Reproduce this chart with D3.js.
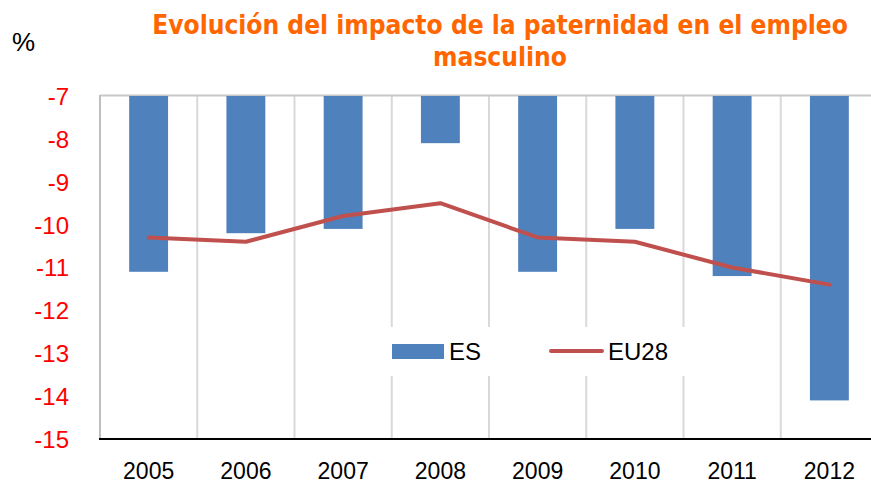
<!DOCTYPE html>
<html><head><meta charset="utf-8">
<script src="https://cdn.jsdelivr.net/npm/d3@7/dist/d3.min.js"></script>
<style>body{margin:0;background:#fff}svg{display:block}</style>
</head><body>
<script>
const years = ["2005","2006","2007","2008","2009","2010","2011","2012"];
const esValues = [-11.1,-10.2,-10.1,-8.1,-11.1,-10.1,-11.2,-14.1];
const eu28Values = [-10.3,-10.4,-9.8,-9.5,-10.3,-10.4,-11.0,-11.4];
const yTicks = [-7,-8,-9,-10,-11,-12,-13,-14,-15];
const titleLines = ["Evolución del impacto de la paternidad en el empleo","masculino"];
const seriesNames = ["ES","EU28"];

(function(){
const W=871,H=484;
const svg=d3.select("body").append("svg").attr("width",W).attr("height",H);
const pL=100,pR=878,pT=96,pB=439;
const x=d3.scaleBand().domain(years).range([pL,pR]).paddingInner(0).paddingOuter(0);
const y=d3.scaleLinear().domain([-7,-15]).range([pT,pB]);
const barW=x.bandwidth()*0.4;
const FONT="Liberation Sans, Arial, sans-serif";

const g=svg.append("g");
g.selectAll("line.grid").data(years.slice(1)).enter().append("line")
 .attr("x1",d=>x(d)).attr("x2",d=>x(d)).attr("y1",pT).attr("y2",pB)
 .attr("stroke","#d9d9d9").attr("stroke-width",2);
g.append("line").attr("x1",pL).attr("x2",W).attr("y1",pT-0.5).attr("y2",pT-0.5).attr("stroke","#c8c8c8").attr("stroke-width",2);
g.append("line").attr("x1",pL).attr("x2",pL).attr("y1",pT-1).attr("y2",pB).attr("stroke","#bfbfbf").attr("stroke-width",2);

svg.append("g").selectAll("rect").data(years).enter().append("rect")
 .attr("x",d=>x(d)+x.bandwidth()/2-barW/2).attr("width",barW)
 .attr("y",y(-7)).attr("height",(d,i)=>y(esValues[i])-y(-7))
 .attr("fill","#4f81bd");

const line=d3.line().x((d,i)=>x(years[i])+x.bandwidth()/2).y(d=>y(d));
svg.append("path").datum(eu28Values).attr("d",line).attr("fill","none")
 .attr("stroke","#c0504d").attr("stroke-width",4).attr("stroke-linejoin","round").attr("stroke-linecap","round");

svg.append("line").attr("x1",pL-1).attr("x2",W).attr("y1",pB).attr("y2",pB).attr("stroke","#000").attr("stroke-width",2);

const yAxis=d3.axisLeft(y).tickValues(yTicks).tickSize(0).tickPadding(0).tickFormat(d=>String(d));
const ya=svg.append("g").attr("transform","translate(69,0)").call(yAxis);
ya.select(".domain").remove();
ya.selectAll("text").attr("fill","#ff0000").style("font-family",FONT).style("font-size","24px").attr("dy","0.35em");

const xAxis=d3.axisBottom(x).tickSize(0).tickPadding(0);
const xa=svg.append("g").call(xAxis);
xa.select(".domain").remove();
xa.selectAll("text").attr("y",479).attr("dy",0).attr("fill","#000").style("font-family",FONT).style("font-size","23px");

const lg=svg.append("g");
lg.append("rect").attr("x",384).attr("y",327).attr("width",316).attr("height",49).attr("fill","#fff");
lg.append("rect").attr("x",392).attr("y",344).attr("width",52).attr("height",15).attr("fill","#4f81bd");
lg.append("text").attr("x",449).attr("y",360).text(seriesNames[0]).style("font-family",FONT).style("font-size","24px");
lg.append("line").attr("x1",551).attr("x2",602).attr("y1",351).attr("y2",351).attr("stroke","#c0504d").attr("stroke-width",4).attr("stroke-linecap","round");
lg.append("text").attr("x",608).attr("y",360).text(seriesNames[1]).style("font-family",FONT).style("font-size","24px");

svg.append("text").attr("x",12).attr("y",51).text("%").style("font-family",FONT).style("font-size","26px");

const TF="DejaVu Sans Condensed, DejaVu Sans, sans-serif";
const t1=svg.append("text").attr("x",500).attr("y",34).attr("text-anchor","middle").text(titleLines[0])
 .attr("fill","#ff6600").style("font-family",TF).style("font-weight","bold").style("font-size","24px");
const t2=svg.append("text").attr("x",500).attr("y",66).attr("text-anchor","middle").text(titleLines[1])
 .attr("fill","#ff6600").style("font-family",TF).style("font-weight","bold").style("font-size","24px");
const w1=t1.node().getComputedTextLength();
const s=696/w1;
t1.style("font-size",(24*s)+"px");
t2.style("font-size",(24*s)+"px");
})();
</script>
</body></html>
